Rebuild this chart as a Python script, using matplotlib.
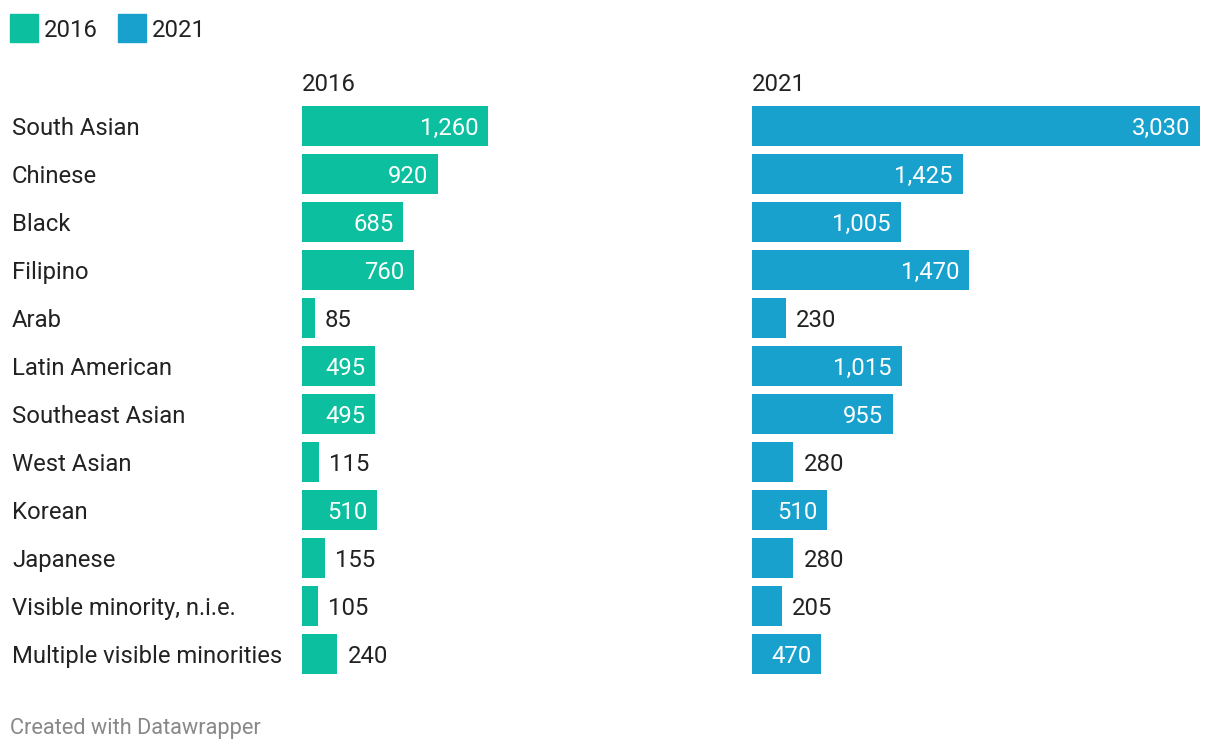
import matplotlib.pyplot as plt

plt.rcParams['font.family'] = ['Roboto', 'DejaVu Sans']

# data
groups = ["South Asian", "Chinese", "Black", "Filipino", "Arab", "Latin American",
          "Southeast Asian", "West Asian", "Korean", "Japanese",
          "Visible minority, n.i.e.", "Multiple visible minorities"]
values_2016 = [1260, 920, 685, 760, 85, 495, 495, 115, 510, 155, 105, 240]
values_2021 = [3030, 1425, 1005, 1470, 230, 1015, 955, 280, 510, 280, 205, 470]

green = "#0bbf9f"
blue = "#18a1cd"
dark = "#222222"

W, H = 1220, 752
fig = plt.figure(figsize=(W / 100, H / 100), dpi=100)

def px_axes(x0, y0, w, h):
    # pixel box measured from top-left
    return fig.add_axes([x0 / W, (H - y0 - h) / H, w / W, h / H])

xmax = 3030
fs = 17.2

def panel(ax, vals, color, title):
    y = list(range(len(vals)))
    ax.barh(y, vals, height=40 / 48, color=color)
    ax.set_xlim(0, xmax)
    ax.set_ylim(len(vals) - 0.5, -0.5)
    ax.axis("off")
    pad = xmax * 10 / 448
    for i, v in enumerate(vals):
        txt = f"{v:,}"
        if v >= 400:
            ax.text(v - pad, i, txt, ha="right", va="center_baseline", color="white", fontsize=fs)
        else:
            ax.text(v + pad, i, txt, ha="left", va="center_baseline", color=dark, fontsize=fs)
    ax.text(0, -0.5 - 20 / 48, title, ha="left", va="center_baseline", color=dark, fontsize=fs)

ax1 = px_axes(302, 102, 448, 576)
panel(ax1, values_2016, green, "2016")
ax2 = px_axes(752, 102, 448, 576)
panel(ax2, values_2021, blue, "2021")

for i, g in enumerate(groups):
    fig.text(12 / W, 1 - (126 + 48 * i) / H, g, ha="left", va="center_baseline",
             color=dark, fontsize=fs)

# legend
for x, lab, c in [(10, "2016", green), (118, "2021", blue)]:
    fig.patches.append(plt.Rectangle((x / W, 1 - 42 / H), 28 / W, 28 / H,
                                     transform=fig.transFigure, color=c))
    fig.text((x + 34) / W, 1 - 28 / H, lab, ha="left", va="center_baseline",
             color=dark, fontsize=fs)

fig.text(10 / W, 1 - 726 / H, "Created with Datawrapper", ha="left", va="center_baseline",
         color="#888888", fontsize=15.7)

fig.savefig("out.png", dpi=100, facecolor="white")
